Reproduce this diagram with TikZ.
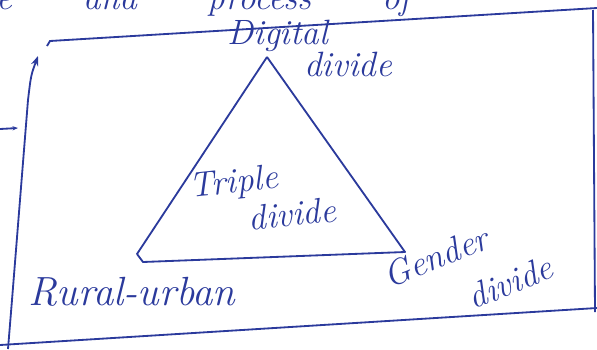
\documentclass[tikz,border=0pt]{standalone}
\usepackage{tikz}
\definecolor{inkblue}{HTML}{2B3A9C}
\usetikzlibrary{arrows.meta, positioning}

\begin{document}
\begin{tikzpicture}[x=0.025cm, y=-0.025cm, line width=1.3pt, draw=inkblue,
      hand/.style={font=\fontsize{25}{27}\selectfont\itshape, text=inkblue, inner sep=0pt}]
   \useasboundingbox (0,0) rectangle (597,349);
   % Line of text above, cut off by the page
   \node[hand, anchor=base west] (toptext) at (-4,9) {e\qquad and\qquad process\qquad of};
   % Box
   \draw (47,46) -- (50,41) -- (597,8);
   \draw (593,10) -- (595,312);
   \draw (0,345) -- (597,308);
   \draw[-{Stealth[length=7pt]}] (8,349) -- (12,300) -- (28,100) .. controls (31,75) .. (38,56);
   \coordinate (tick) at (0,129);
   \draw[-{Stealth[length=4pt]}] (tick) -- ++(18,-1);
   % Triangle
   \coordinate (apex) at (267,57);
   \coordinate (ruralcorner) at (137,254);
   \coordinate (gendercorner) at (405,252);
   \draw[line join=round] (apex) -- (ruralcorner) -- ++(6,8) -- (gendercorner) -- (apex);
   % Labels
   \node[hand] (digital) at (278,36) {Digital};
   \node[hand] (digdiv) at (348,64) {divide};
   \node[hand, rotate=6] (triple) at (234,184) {Triple};
   \node[hand, rotate=6] (tridiv) at (292,214) {divide};
   \node[hand, font=\fontsize{29}{31}\selectfont\itshape] (rural) at (132,292) {Rural-urban};
   \node[hand, rotate=22] (gender) at (436,257) {Gender};
   \node[hand, rotate=22] (gendiv) at (510,282) {divide};
\end{tikzpicture}
\end{document}
